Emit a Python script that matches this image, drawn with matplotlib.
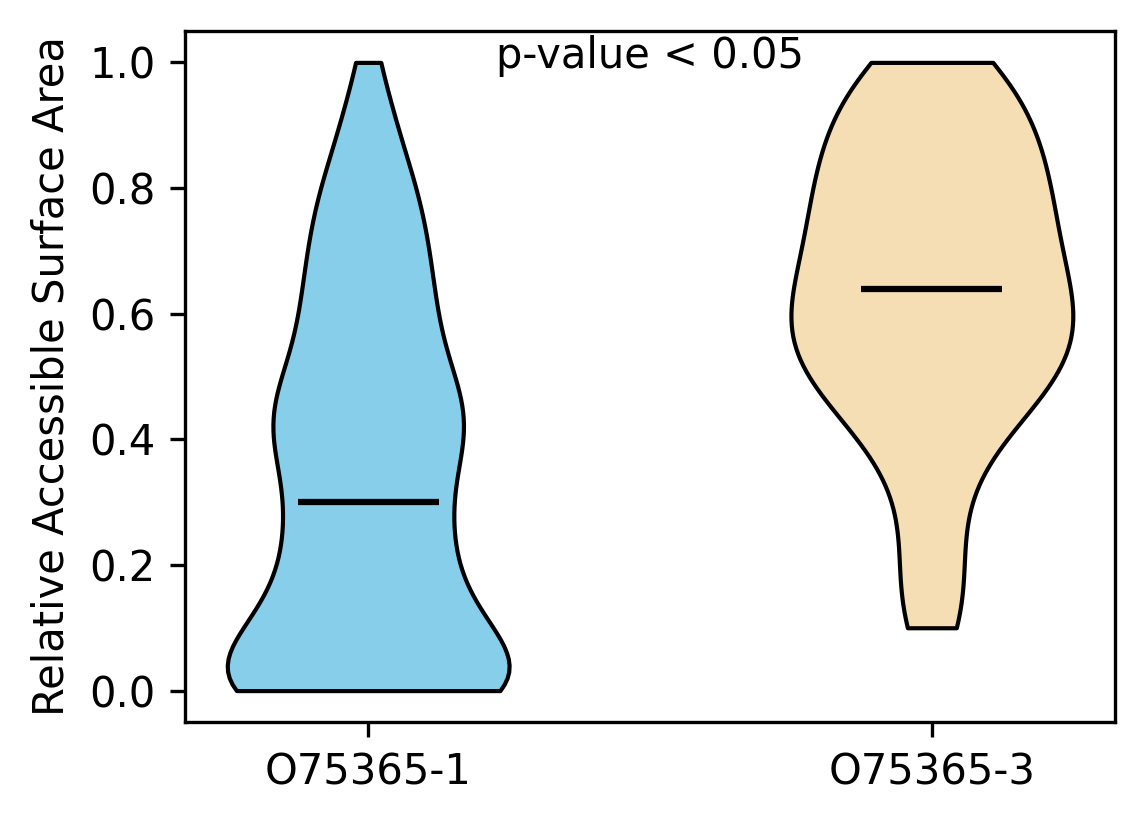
import matplotlib
matplotlib.use('Agg')
import matplotlib.pyplot as plt
import numpy as np

# isoform labels and violin colours
isoforms = ['O75365-1', 'O75365-3']
colors = ['skyblue', 'wheat']
p_text = 'p-value < 0.05'

# RSA values (binned) and how many residues fall at each value
rsa_values_1 = [0.00, 0.05, 0.10, 0.15, 0.20, 0.25, 0.30, 0.35, 0.40, 0.45, 0.50,
                0.55, 0.60, 0.65, 0.70, 0.75, 0.80, 0.85, 0.90, 0.95, 1.00]
rsa_counts_1 = [77, 16, 26, 20, 12, 21, 16, 11, 26, 24, 15,
                13, 15, 13, 12, 12, 11, 7, 5, 5, 2]

rsa_values_3 = [0.10, 0.16, 0.22, 0.28, 0.34, 0.40, 0.46, 0.52,
                0.58, 0.64, 0.70, 0.76, 0.82, 0.88, 0.94, 1.00]
rsa_counts_3 = [11, 8, 8, 7, 9, 16, 28, 37,
                39, 35, 31, 31, 30, 27, 24, 21]

KDE_WIDTH = 0.08  # kernel sd in RSA units


def fixed_bw(kde):
    return KDE_WIDTH / kde.dataset.std(ddof=1)


data = [np.repeat(rsa_values_1, rsa_counts_1),
        np.repeat(rsa_values_3, rsa_counts_3)]

fig, ax = plt.subplots(figsize=(11.44 / 3, 8.24 / 3), dpi=300)
parts = ax.violinplot(data, showmedians=True, showextrema=False, bw_method=fixed_bw)
for body, c in zip(parts['bodies'], colors):
    body.set_facecolor(c)
    body.set_edgecolor('black')
    body.set_alpha(1)
parts['cmedians'].set_color('black')

ax.set_xticks([1, 2])
ax.set_xticklabels(isoforms)
ax.set_ylabel('Relative Accessible Surface Area')
ax.text(0.5, 0.947, p_text, transform=ax.transAxes, ha='center')

fig.subplots_adjust(left=0.1617, right=0.9747, top=0.9624, bottom=0.1238)
fig.savefig('out.png', dpi=300)
